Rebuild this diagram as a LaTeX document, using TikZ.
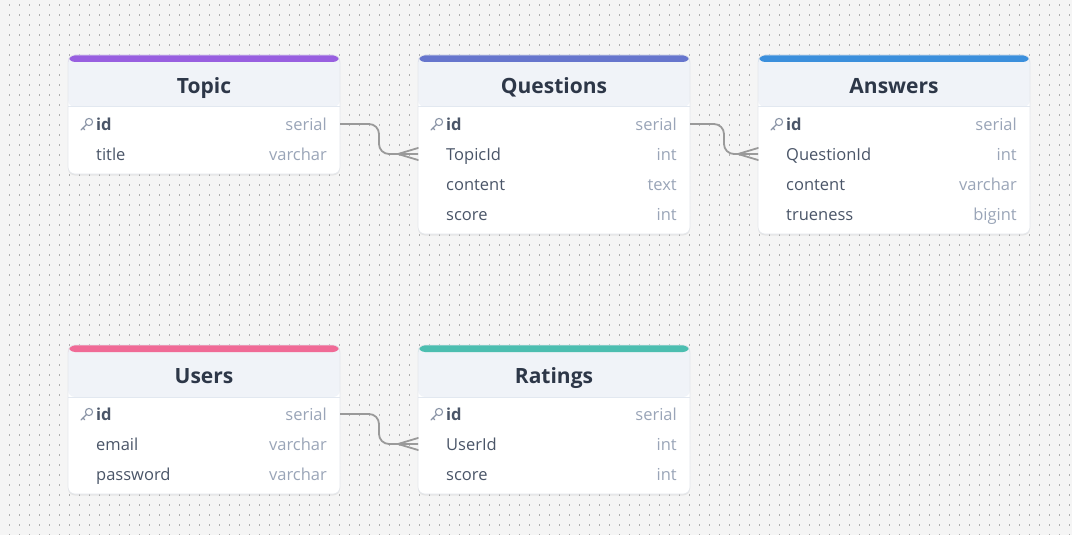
\documentclass[tikz,border=0pt]{standalone}
\usepackage{fontspec}
\setmainfont{Open Sans}
\usetikzlibrary{shadows,positioning}
\definecolor{canvasbg}{HTML}{F5F5F5}
\definecolor{dotgray}{HTML}{B0B0B0}
\definecolor{headbg}{HTML}{F0F3F8}
\definecolor{headline}{HTML}{E2E8F0}
\definecolor{cardline}{HTML}{E4E7EC}
\definecolor{titletext}{HTML}{2D3748}
\definecolor{nametext}{HTML}{4A5568}
\definecolor{typetext}{HTML}{9AA5B8}
\definecolor{keygray}{HTML}{8A94A6}
\definecolor{relgray}{HTML}{9A9A9A}
\definecolor{topiccol}{HTML}{985FE0}
\definecolor{questcol}{HTML}{6675CD}
\definecolor{answcol}{HTML}{3B8FDC}
\definecolor{usercol}{HTML}{F06A96}
\definecolor{ratecol}{HTML}{4CBEB0}
\tikzset{
  griddots/.style={draw=dotgray, line width=1.2pt, dash pattern=on 1.2pt off 8.8pt},
  card/.style={rounded corners=7pt, fill=white, draw=cardline, line width=0.6pt,
    minimum width=272pt, inner sep=0pt, outer sep=0pt,
    drop shadow={opacity=0.13, shadow xshift=0pt, shadow yshift=-1.5pt},
    path picture={
      \fill[headbg] (path picture bounding box.north west) rectangle ([yshift=-52pt]path picture bounding box.north east);
      \fill[#1] (path picture bounding box.north west) rectangle ([yshift=-7pt]path picture bounding box.north east);
      \draw[headline, line width=1pt] ([yshift=-52pt]path picture bounding box.north west) -- ([yshift=-52pt]path picture bounding box.north east);
    }},
  title/.style={font=\fontsize{21}{24}\selectfont\bfseries, text=titletext, inner sep=0pt,
    text height=15.6pt, text depth=1pt},
  row/.style={minimum width=272pt, minimum height=30pt, inner sep=0pt, outer sep=0pt},
  fname/.style={anchor=west, inner sep=0pt, text height=13pt, text depth=1pt,
    font=\fontsize{16.5}{19}\selectfont, text=nametext},
  ftype/.style={anchor=east, inner sep=0pt, text height=13pt, text depth=1pt,
    font=\fontsize{16.5}{19}\selectfont, text=typetext},
  keyline/.style={draw=keygray, line width=1.1pt, line cap=round},
  keyicon/.pic={
    \draw[keyline] (0,0) circle (3.6pt);
    \draw[keyline] (-2.5,2.5) -- (-8,8);
    \draw[keyline] (-6,6) -- (-4.3,7.7);
  },
  rel/.style={draw=relgray, line width=1.8pt, rounded corners=10pt},
  crow/.style={draw=relgray, line width=1.8pt, line cap=round},
}
\begin{document}
\begin{tikzpicture}[x=1pt, y=-1pt]
  \useasboundingbox (0,0) rectangle (1072,535);
  \fill[canvasbg] (0,0) rectangle (1072,535);
  \foreach \j in {0,...,53}
    \draw[griddots] (9,5+10*\j) -- (1072,5+10*\j);

  \node[card=topiccol, minimum height=119pt] (topic) at (204,114.5) {};
  \node[title] (topic-title) at (204,86) {Topic};
  \node[row] (topic-id) at (204,124) {};
  \pic at ([xshift=21pt,yshift=2pt]topic-id.west) {keyicon};
  \node[fname, font=\fontsize{16.5}{19}\selectfont\bfseries] (topic-id-name) at ([xshift=28pt]topic-id.west) {id};
  \node[ftype] (topic-id-type) at ([xshift=-13pt]topic-id.east) {serial};
  \foreach \f/\t [count=\k] in {title/varchar} {
    \node[row] (topic-\f) at (204,124+30*\k) {};
    \node[fname] at ([xshift=28pt]topic-\f.west) {\f};
    \node[ftype] at ([xshift=-13pt]topic-\f.east) {\t};
  }

  \node[card=questcol, minimum height=179pt] (questions) at (554,144.5) {};
  \node[title] (questions-title) at (554,86) {Questions};
  \node[row] (questions-id) at (554,124) {};
  \pic at ([xshift=21pt,yshift=2pt]questions-id.west) {keyicon};
  \node[fname, font=\fontsize{16.5}{19}\selectfont\bfseries] (questions-id-name) at ([xshift=28pt]questions-id.west) {id};
  \node[ftype] (questions-id-type) at ([xshift=-13pt]questions-id.east) {serial};
  \foreach \f/\t [count=\k] in {TopicId/int, content/text, score/int} {
    \node[row] (questions-\f) at (554,124+30*\k) {};
    \node[fname] at ([xshift=28pt]questions-\f.west) {\f};
    \node[ftype] at ([xshift=-13pt]questions-\f.east) {\t};
  }

  \node[card=answcol, minimum height=179pt] (answers) at (894,144.5) {};
  \node[title] (answers-title) at (894,86) {Answers};
  \node[row] (answers-id) at (894,124) {};
  \pic at ([xshift=21pt,yshift=2pt]answers-id.west) {keyicon};
  \node[fname, font=\fontsize{16.5}{19}\selectfont\bfseries] (answers-id-name) at ([xshift=28pt]answers-id.west) {id};
  \node[ftype] (answers-id-type) at ([xshift=-13pt]answers-id.east) {serial};
  \foreach \f/\t [count=\k] in {QuestionId/int, content/varchar, trueness/bigint} {
    \node[row] (answers-\f) at (894,124+30*\k) {};
    \node[fname] at ([xshift=28pt]answers-\f.west) {\f};
    \node[ftype] at ([xshift=-13pt]answers-\f.east) {\t};
  }

  \node[card=usercol, minimum height=149pt] (users) at (204,419.5) {};
  \node[title] (users-title) at (204,376) {Users};
  \node[row] (users-id) at (204,414) {};
  \pic at ([xshift=21pt,yshift=2pt]users-id.west) {keyicon};
  \node[fname, font=\fontsize{16.5}{19}\selectfont\bfseries] (users-id-name) at ([xshift=28pt]users-id.west) {id};
  \node[ftype] (users-id-type) at ([xshift=-13pt]users-id.east) {serial};
  \foreach \f/\t [count=\k] in {email/varchar, password/varchar} {
    \node[row] (users-\f) at (204,414+30*\k) {};
    \node[fname] at ([xshift=28pt]users-\f.west) {\f};
    \node[ftype] at ([xshift=-13pt]users-\f.east) {\t};
  }

  \node[card=ratecol, minimum height=149pt] (ratings) at (554,419.5) {};
  \node[title] (ratings-title) at (554,376) {Ratings};
  \node[row] (ratings-id) at (554,414) {};
  \pic at ([xshift=21pt,yshift=2pt]ratings-id.west) {keyicon};
  \node[fname, font=\fontsize{16.5}{19}\selectfont\bfseries] (ratings-id-name) at ([xshift=28pt]ratings-id.west) {id};
  \node[ftype] (ratings-id-type) at ([xshift=-13pt]ratings-id.east) {serial};
  \foreach \f/\t [count=\k] in {UserId/int, score/int} {
    \node[row] (ratings-\f) at (554,414+30*\k) {};
    \node[fname] at ([xshift=28pt]ratings-\f.west) {\f};
    \node[ftype] at ([xshift=-13pt]ratings-\f.east) {\t};
  }

  \draw[rel] (topic-id.east) -- ++(39,0) |- (questions-TopicId.west);
  \draw[crow] ([xshift=-20pt]questions-TopicId.west) -- ([yshift=6pt]questions-TopicId.west);
  \draw[crow] ([xshift=-20pt]questions-TopicId.west) -- ([yshift=-6pt]questions-TopicId.west);
  \draw[rel] (questions-id.east) -- ++(34,0) |- (answers-QuestionId.west);
  \draw[crow] ([xshift=-20pt]answers-QuestionId.west) -- ([yshift=6pt]answers-QuestionId.west);
  \draw[crow] ([xshift=-20pt]answers-QuestionId.west) -- ([yshift=-6pt]answers-QuestionId.west);
  \draw[rel] (users-id.east) -- ++(39,0) |- (ratings-UserId.west);
  \draw[crow] ([xshift=-20pt]ratings-UserId.west) -- ([yshift=6pt]ratings-UserId.west);
  \draw[crow] ([xshift=-20pt]ratings-UserId.west) -- ([yshift=-6pt]ratings-UserId.west);
\end{tikzpicture}
\end{document}
